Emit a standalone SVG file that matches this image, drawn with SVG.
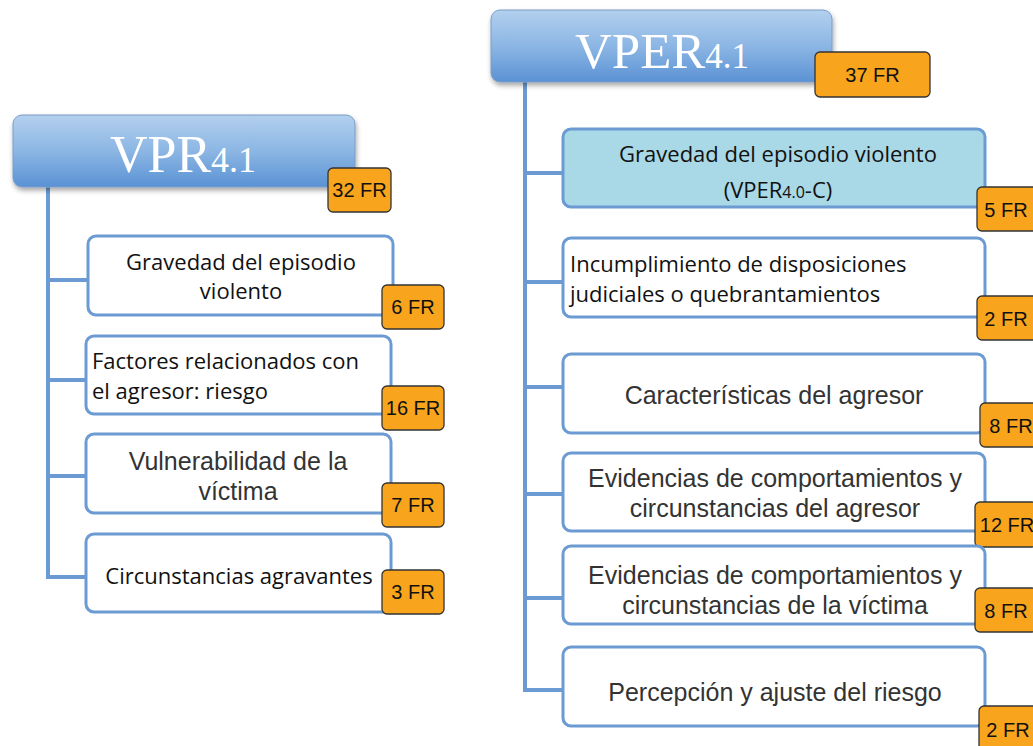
<svg xmlns="http://www.w3.org/2000/svg" width="1033" height="746" viewBox="0 0 1033 746">
<defs>
<linearGradient id="hdr" x1="0" y1="0" x2="0" y2="1">
<stop offset="0" stop-color="#b3d0ee"/>
<stop offset="0.5" stop-color="#8cb6e4"/>
<stop offset="1" stop-color="#5a92d4"/>
</linearGradient>
<filter id="sh" x="-10%" y="-20%" width="120%" height="150%">
<feDropShadow dx="1" dy="3" stdDeviation="2.5" flood-color="#000" flood-opacity="0.35"/>
</filter>
</defs>
<style>
.hdr{fill:url(#hdr);stroke:#7a9cc6;stroke-width:1}
.box{fill:#ffffff;stroke:#6b9bd2;stroke-width:3}
.boxb{fill:#a9d8e6;stroke:#6b9bd2;stroke-width:3}
.bdg{fill:#f8a51d;stroke:#333;stroke-width:1.3}
.conn{stroke:#6b9bd2;stroke-width:4;fill:none}
.ht{font-family:"Liberation Serif",serif;fill:#fff}
.bt{font-family:"Liberation Sans",Arial,sans-serif;font-size:20px;fill:#111;text-anchor:middle}
.c{font-family:"Open Sans","Noto Sans",sans-serif;font-size:22px;fill:#111}
.a{font-family:"Liberation Sans",Arial,sans-serif;font-size:25px;fill:#333;text-anchor:middle}
.m{text-anchor:middle}
</style>
<g id="connectors">
<path class="conn" d="M48 187 V577 H88 M48 280 H88 M48 380 H86 M48 476 H86"/>
<path class="conn" d="M525 82 V690 H563 M525 173 H563 M525 282 H563 M525 387 H563 M525 494 H563 M525 598 H563"/>
</g>
<g id="vpr">
<rect class="hdr" x="13" y="115" width="342" height="72" rx="9" filter="url(#sh)"/>
<text class="ht" x="183" y="172" text-anchor="middle"><tspan font-size="52">VPR</tspan><tspan font-size="36">4.1</tspan></text>
<rect class="bdg" x="328" y="168" width="63" height="44" rx="5"/>
<text class="bt" x="359.5" y="197">32 FR</text>
</g>
<g id="l1">
<rect class="box" x="88" y="236" width="305" height="79" rx="8"/>
<text class="c m" x="241" y="270" font-size="21.5">Gravedad del episodio</text>
<text class="c m" x="241" y="299" font-size="21.5">violento</text>
<rect class="bdg" x="382" y="285" width="62" height="44" rx="5"/>
<text class="bt" x="413" y="314">6 FR</text>
</g>
<g id="l2">
<rect class="box" x="86" y="336" width="305" height="78" rx="8"/>
<text class="c" x="92" y="369">Factores relacionados con</text>
<text class="c" x="92" y="399">el agresor: riesgo</text>
<rect class="bdg" x="382" y="386" width="62" height="44" rx="5"/>
<text class="bt" x="413" y="415">16 FR</text>
</g>
<g id="l3">
<rect class="box" x="86" y="434" width="305" height="79" rx="8"/>
<text class="a" x="238" y="470">Vulnerabilidad de la</text>
<text class="a" x="238" y="500">víctima</text>
<rect class="bdg" x="382" y="483" width="62" height="44" rx="5"/>
<text class="bt" x="413" y="512">7 FR</text>
</g>
<g id="l4">
<rect class="box" x="86" y="534" width="305" height="78" rx="8"/>
<text class="c m" x="239" y="584">Circunstancias agravantes</text>
<rect class="bdg" x="382" y="570" width="62" height="44" rx="5"/>
<text class="bt" x="413" y="599">3 FR</text>
</g>
<g id="vper">
<rect class="hdr" x="491" y="10" width="341" height="72" rx="9" filter="url(#sh)"/>
<text class="ht" x="662" y="68" text-anchor="middle"><tspan font-size="51">VPER</tspan><tspan font-size="35">4.1</tspan></text>
<rect class="bdg" x="815" y="52" width="115" height="45" rx="5"/>
<text class="bt" x="872.5" y="82">37 FR</text>
</g>
<g id="r1">
<rect class="boxb" x="563" y="129" width="422" height="78" rx="8"/>
<text class="c m" x="778" y="162">Gravedad del episodio violento</text>
<text class="c m" x="778" y="198">(VPER<tspan font-size="16">4.0</tspan>-C)</text>
<rect class="bdg" x="977" y="187" width="62" height="44" rx="5"/>
<text class="bt" x="1006" y="217">5 FR</text>
</g>
<g id="r2">
<rect class="box" x="563" y="238" width="422" height="79" rx="8"/>
<text class="c" x="570" y="272">Incumplimiento de disposiciones</text>
<text class="c" x="570" y="302">judiciales o quebrantamientos</text>
<rect class="bdg" x="977" y="296" width="62" height="44" rx="5"/>
<text class="bt" x="1006" y="326">2 FR</text>
</g>
<g id="r3">
<rect class="box" x="563" y="354" width="422" height="79" rx="8"/>
<text class="a" x="774" y="404">Características del agresor</text>
<rect class="bdg" x="980" y="403" width="62" height="44" rx="5"/>
<text class="bt" x="1011" y="433">8 FR</text>
</g>
<g id="r4">
<rect class="box" x="563" y="453" width="422" height="78" rx="8"/>
<text class="a" x="775" y="487">Evidencias de comportamientos y</text>
<text class="a" x="775" y="517">circunstancias del agresor</text>
<rect class="bdg" x="975" y="502" width="62" height="45" rx="5"/>
<text class="bt" x="1007" y="532">12 FR</text>
</g>
<g id="r5">
<rect class="box" x="563" y="546" width="422" height="78" rx="8"/>
<text class="a" x="775" y="584">Evidencias de comportamientos y</text>
<text class="a" x="775" y="614">circunstancias de la víctima</text>
<rect class="bdg" x="975" y="588" width="62" height="44" rx="5"/>
<text class="bt" x="1006" y="618">8 FR</text>
</g>
<g id="r6">
<rect class="box" x="563" y="647" width="422" height="79" rx="8"/>
<text class="a" x="775" y="701">Percepción y ajuste del riesgo</text>
<rect class="bdg" x="979" y="706" width="62" height="45" rx="5"/>
<text class="bt" x="1008" y="737">2 FR</text>
</g>
</svg>
